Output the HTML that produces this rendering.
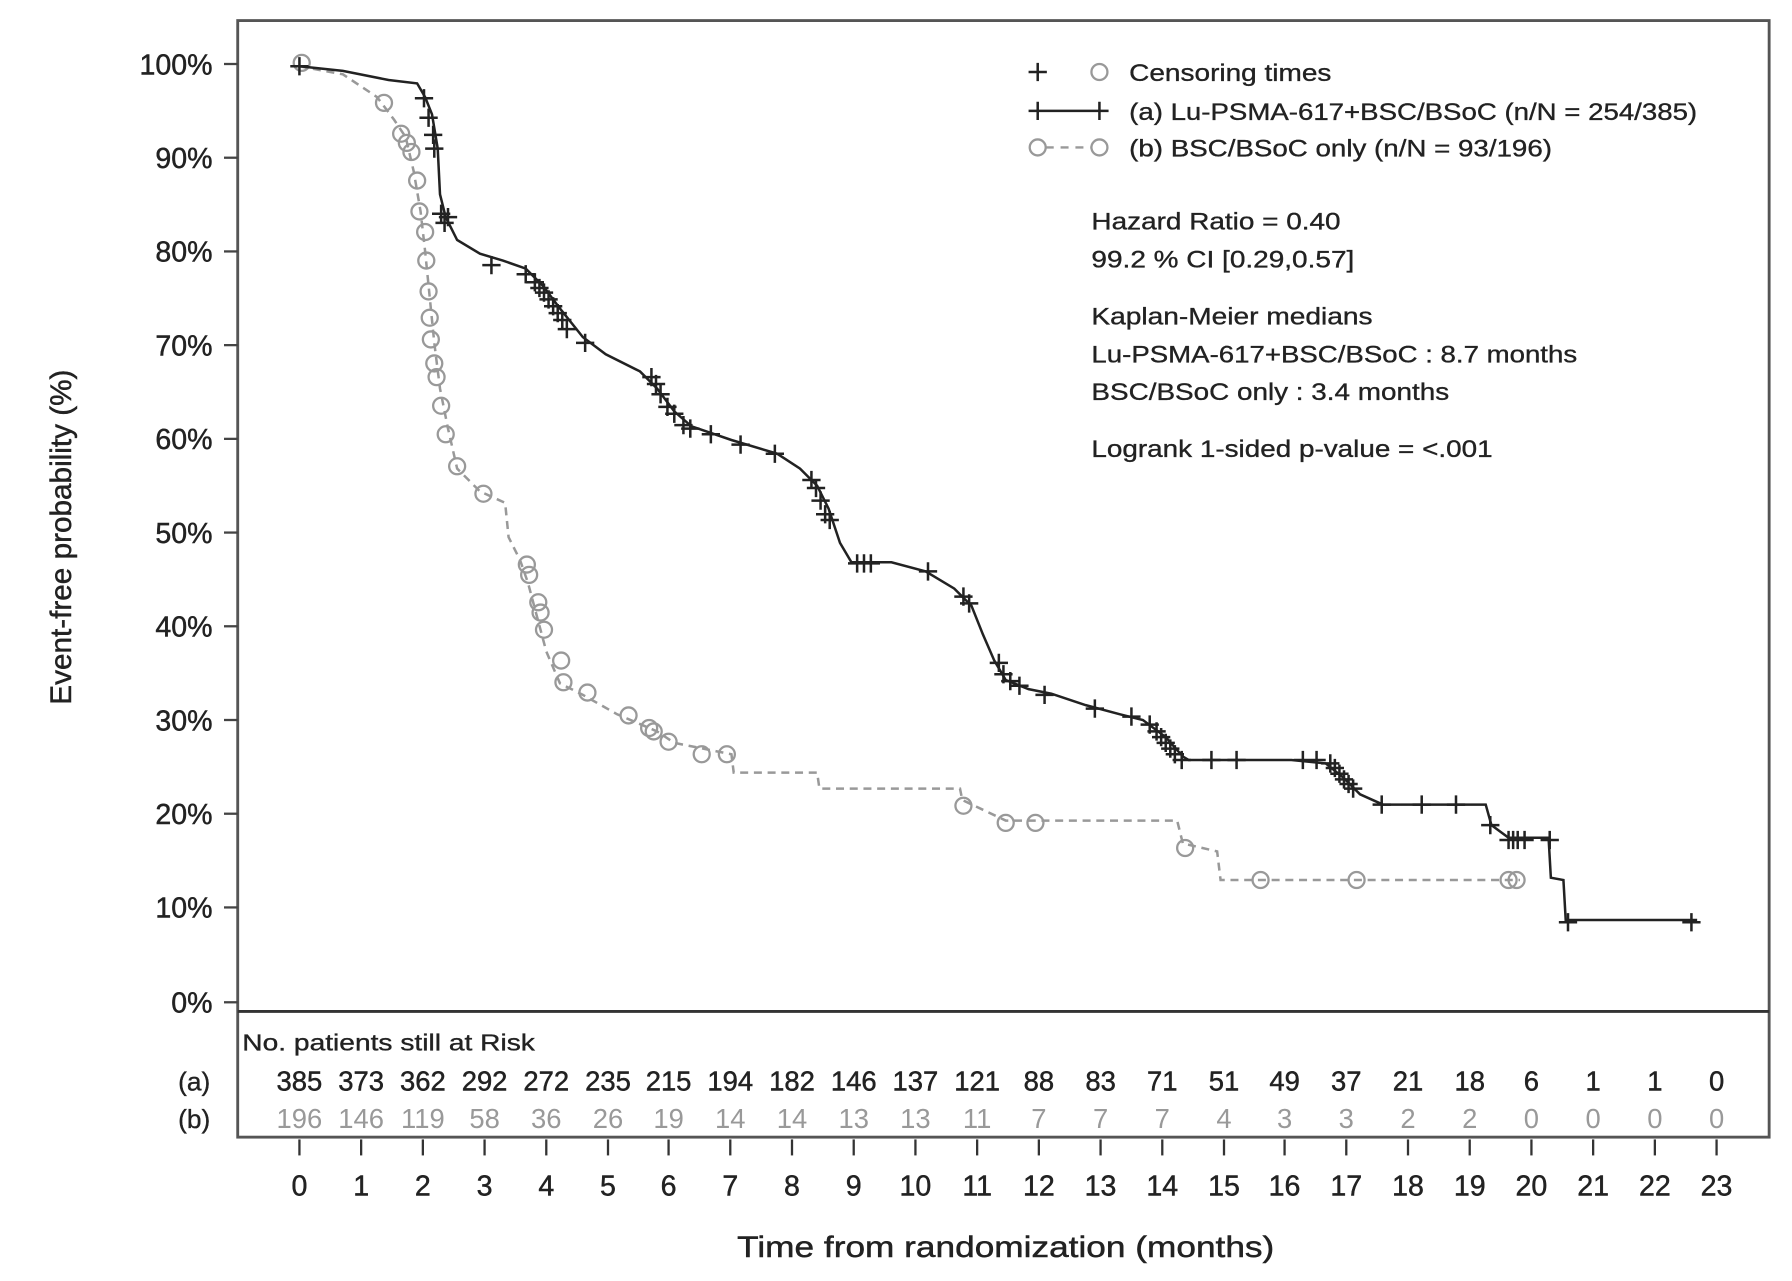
<!DOCTYPE html>
<html><head><meta charset="utf-8"><style>
html,body{margin:0;padding:0;background:#fff;}
svg{display:block;}
text{font-family:"Liberation Sans",Arial,sans-serif;}
</style></head><body>
<svg width="1792" height="1281" viewBox="0 0 1568 1120.875" xmlns="http://www.w3.org/2000/svg">
<rect x="0" y="0" width="1568" height="1121" fill="#fff"/>
<rect x="208" y="18" width="1340" height="977" fill="none" stroke="#555" stroke-width="2.5"/>
<line x1="208" y1="885" x2="1548" y2="885" stroke="#333" stroke-width="2.5"/>
<g stroke="#444" stroke-width="2">
<line x1="196" y1="56" x2="208" y2="56"/><line x1="196" y1="138" x2="208" y2="138"/><line x1="196" y1="220" x2="208" y2="220"/><line x1="196" y1="302" x2="208" y2="302"/><line x1="196" y1="384" x2="208" y2="384"/><line x1="196" y1="466" x2="208" y2="466"/><line x1="196" y1="548" x2="208" y2="548"/><line x1="196" y1="630" x2="208" y2="630"/><line x1="196" y1="712" x2="208" y2="712"/><line x1="196" y1="794" x2="208" y2="794"/><line x1="196" y1="877" x2="208" y2="877"/>
</g>
<g font-size="25" fill="#222" stroke="#222" stroke-width="0.4" text-anchor="end">
<text x="186" y="65">100%</text><text x="186" y="147">90%</text><text x="186" y="229">80%</text><text x="186" y="311">70%</text><text x="186" y="393">60%</text><text x="186" y="475">50%</text><text x="186" y="557">40%</text><text x="186" y="639">30%</text><text x="186" y="721">20%</text><text x="186" y="803">10%</text><text x="186" y="886">0%</text>
</g>
<text transform="translate(62,470) rotate(-90)" font-size="26" fill="#222" stroke="#222" stroke-width="0.4" text-anchor="middle">Event-free probability (%)</text>
<g font-size="25" fill="#222" stroke="#222" stroke-width="0.4" text-anchor="middle">
<text x="262" y="1046">0</text><text x="316" y="1046">1</text><text x="370" y="1046">2</text><text x="424" y="1046">3</text><text x="478" y="1046">4</text><text x="532" y="1046">5</text><text x="585" y="1046">6</text><text x="639" y="1046">7</text><text x="693" y="1046">8</text><text x="747" y="1046">9</text><text x="801" y="1046">10</text><text x="855" y="1046">11</text><text x="909" y="1046">12</text><text x="963" y="1046">13</text><text x="1017" y="1046">14</text><text x="1071" y="1046">15</text><text x="1124" y="1046">16</text><text x="1178" y="1046">17</text><text x="1232" y="1046">18</text><text x="1286" y="1046">19</text><text x="1340" y="1046">20</text><text x="1394" y="1046">21</text><text x="1448" y="1046">22</text><text x="1502" y="1046">23</text>
</g>
<g stroke="#333" stroke-width="2">
<line x1="262" y1="997" x2="262" y2="1011"/><line x1="316" y1="997" x2="316" y2="1011"/><line x1="370" y1="997" x2="370" y2="1011"/><line x1="424" y1="997" x2="424" y2="1011"/><line x1="478" y1="997" x2="478" y2="1011"/><line x1="532" y1="997" x2="532" y2="1011"/><line x1="585" y1="997" x2="585" y2="1011"/><line x1="639" y1="997" x2="639" y2="1011"/><line x1="693" y1="997" x2="693" y2="1011"/><line x1="747" y1="997" x2="747" y2="1011"/><line x1="801" y1="997" x2="801" y2="1011"/><line x1="855" y1="997" x2="855" y2="1011"/><line x1="909" y1="997" x2="909" y2="1011"/><line x1="963" y1="997" x2="963" y2="1011"/><line x1="1017" y1="997" x2="1017" y2="1011"/><line x1="1071" y1="997" x2="1071" y2="1011"/><line x1="1124" y1="997" x2="1124" y2="1011"/><line x1="1178" y1="997" x2="1178" y2="1011"/><line x1="1232" y1="997" x2="1232" y2="1011"/><line x1="1286" y1="997" x2="1286" y2="1011"/><line x1="1340" y1="997" x2="1340" y2="1011"/><line x1="1394" y1="997" x2="1394" y2="1011"/><line x1="1448" y1="997" x2="1448" y2="1011"/><line x1="1502" y1="997" x2="1502" y2="1011"/>
</g>
<text x="880" y="1100" font-size="26" fill="#222" stroke="#222" stroke-width="0.4" text-anchor="middle" textLength="470" lengthAdjust="spacingAndGlyphs">Time from randomization (months)</text>
<text x="212" y="919" font-size="20" fill="#222" stroke="#222" stroke-width="0.3" textLength="256" lengthAdjust="spacingAndGlyphs">No. patients still at Risk</text>
<text x="184" y="954" font-size="23" fill="#222" stroke="#222" stroke-width="0.3" text-anchor="end">(a)</text>
<text x="184" y="987" font-size="23" fill="#222" stroke="#222" stroke-width="0.3" text-anchor="end">(b)</text>
<g font-size="24" fill="#222" stroke="#222" stroke-width="0.4" text-anchor="middle">
<text x="262" y="954">385</text><text x="316" y="954">373</text><text x="370" y="954">362</text><text x="424" y="954">292</text><text x="478" y="954">272</text><text x="532" y="954">235</text><text x="585" y="954">215</text><text x="639" y="954">194</text><text x="693" y="954">182</text><text x="747" y="954">146</text><text x="801" y="954">137</text><text x="855" y="954">121</text><text x="909" y="954">88</text><text x="963" y="954">83</text><text x="1017" y="954">71</text><text x="1071" y="954">51</text><text x="1124" y="954">49</text><text x="1178" y="954">37</text><text x="1232" y="954">21</text><text x="1286" y="954">18</text><text x="1340" y="954">6</text><text x="1394" y="954">1</text><text x="1448" y="954">1</text><text x="1502" y="954">0</text>
</g>
<g font-size="24" fill="#999" text-anchor="middle">
<text x="262" y="987">196</text><text x="316" y="987">146</text><text x="370" y="987">119</text><text x="424" y="987">58</text><text x="478" y="987">36</text><text x="532" y="987">26</text><text x="585" y="987">19</text><text x="639" y="987">14</text><text x="693" y="987">14</text><text x="747" y="987">13</text><text x="801" y="987">13</text><text x="855" y="987">11</text><text x="909" y="987">7</text><text x="963" y="987">7</text><text x="1017" y="987">7</text><text x="1071" y="987">4</text><text x="1124" y="987">3</text><text x="1178" y="987">3</text><text x="1232" y="987">2</text><text x="1286" y="987">2</text><text x="1340" y="987">0</text><text x="1394" y="987">0</text><text x="1448" y="987">0</text><text x="1502" y="987">0</text>
</g>
<polyline fill="none" stroke="#999" stroke-width="2.2" stroke-dasharray="7,5" points="262,58 300,65 330,85 345,105 355,120 362,150 368,185 372,220 376,260 380,300 385,340 392,375 400,410 420,430 442,440 445,470 455,490 462,510 470,540 478,570 490,598 510,608 540,625 575,640 590,650 640,660 642,676 715,676 717,690 840,690 842,700 880,718 1030,718 1035,738 1065,745 1068,770 1330,770"/>
<g fill="none" stroke="#999" stroke-width="2">
<circle cx="264" cy="55" r="7"/><circle cx="336" cy="90" r="7"/><circle cx="351" cy="117" r="7"/><circle cx="356" cy="125" r="7"/><circle cx="360" cy="133" r="7"/><circle cx="365" cy="158" r="7"/><circle cx="367" cy="185" r="7"/><circle cx="372" cy="203" r="7"/><circle cx="373" cy="228" r="7"/><circle cx="375" cy="255" r="7"/><circle cx="376" cy="278" r="7"/><circle cx="377" cy="297" r="7"/><circle cx="380" cy="318" r="7"/><circle cx="382" cy="330" r="7"/><circle cx="386" cy="355" r="7"/><circle cx="390" cy="380" r="7"/><circle cx="400" cy="408" r="7"/><circle cx="423" cy="432" r="7"/><circle cx="461" cy="494" r="7"/><circle cx="463" cy="503" r="7"/><circle cx="471" cy="527" r="7"/><circle cx="473" cy="536" r="7"/><circle cx="476" cy="551" r="7"/><circle cx="491" cy="578" r="7"/><circle cx="493" cy="597" r="7"/><circle cx="514" cy="606" r="7"/><circle cx="550" cy="626" r="7"/><circle cx="568" cy="637" r="7"/><circle cx="572" cy="640" r="7"/><circle cx="585" cy="649" r="7"/><circle cx="614" cy="660" r="7"/><circle cx="636" cy="660" r="7"/><circle cx="843" cy="705" r="7"/><circle cx="880" cy="720" r="7"/><circle cx="906" cy="720" r="7"/><circle cx="1037" cy="742" r="7"/><circle cx="1103" cy="770" r="7"/><circle cx="1187" cy="770" r="7"/><circle cx="1320" cy="770" r="7"/><circle cx="1327" cy="770" r="7"/>
</g>
<polyline fill="none" stroke="#222" stroke-width="2.2" points="262,58 300,62 340,70 365,73 372,85 378,100 383,130 385,170 390,190 400,210 420,222 440,228 460,235 475,250 490,270 510,295 530,310 560,325 575,340 590,360 605,373 640,385 680,397 700,410 715,425 725,445 735,475 745,492 780,492 810,500 835,515 850,530 860,555 870,578 880,595 900,603 920,607 950,617 980,625 1000,630 1020,645 1035,662 1040,665 1130,665 1160,668 1175,680 1190,695 1210,704 1300,704 1305,722 1320,733 1355,733 1357,768 1368,770 1370,805 1485,805"/>
<path fill="none" stroke="#222" stroke-width="2.2" d="
M262,50v16M254,58h16
M371,78v16M363,86h16 M375,95v16M367,103h16 M379,110v16M371,118h16 M380,122v16M372,130h16
M386,179v16M378,187h16 M389,187v16M381,195h16 M392,182v16M384,190h16
M430,224v16M422,232h16 M460,232v16M452,240h16 M468,239v16M460,247h16 M472,244v16M464,252h16 M476,248v16M468,256h16 M480,254v16M472,262h16 M484,260v16M476,268h16 M488,266v16M480,274h16 M492,272v16M484,280h16 M496,280v16M488,288h16 M512,292v16M504,300h16
M570,322v16M562,330h16 M574,328v16M566,336h16 M578,337v16M570,345h16 M584,348v16M576,356h16 M590,354v16M582,362h16 M598,364v16M590,372h16 M604,367v16M596,375h16 M622,372v16M614,380h16 M648,381v16M640,389h16 M678,389v16M670,397h16
M710,412v16M702,420h16 M714,419v16M706,427h16 M718,430v16M710,438h16 M722,442v16M714,450h16 M726,447v16M718,455h16
M750,485v16M742,493h16 M756,485v16M748,493h16 M762,485v16M754,493h16 M812,492v16M804,500h16 M843,514v16M835,522h16 M848,520v16M840,528h16
M874,572v16M866,580h16 M878,582v16M870,590h16 M884,588v16M876,596h16 M892,592v16M884,600h16 M914,600v16M906,608h16 M958,612v16M950,620h16 M990,619v16M982,627h16
M1006,626v16M998,634h16 M1012,632v16M1004,640h16 M1016,637v16M1008,645h16 M1020,642v16M1012,650h16 M1024,647v16M1016,655h16 M1028,652v16M1020,660h16 M1034,657v16M1026,665h16
M1060,657v16M1052,665h16 M1082,657v16M1074,665h16 M1140,657v16M1132,665h16 M1152,657v16M1144,665h16 M1164,660v16M1156,668h16 M1168,664v16M1160,672h16 M1172,669v16M1164,677h16 M1176,674v16M1168,682h16 M1180,678v16M1172,686h16 M1184,682v16M1176,690h16
M1209,696v16M1201,704h16 M1244,696v16M1236,704h16 M1274,696v16M1266,704h16 M1304,714v16M1296,722h16
M1320,727v16M1312,735h16 M1324,727v16M1316,735h16 M1328,727v16M1320,735h16 M1334,727v16M1326,735h16 M1356,727v16M1348,735h16
M1372,799v16M1364,807h16 M1480,799v16M1472,807h16"/>
<path stroke="#222" stroke-width="2.2" fill="none" d="M908,55v16M900,63h16 M900,97h62 M908,89v16M900,97h16 M962,89v16M954,97h16"/>
<circle cx="962" cy="63" r="7" fill="none" stroke="#999" stroke-width="2"/>
<circle cx="908" cy="129" r="7" fill="none" stroke="#999" stroke-width="2"/>
<circle cx="962" cy="129" r="7" fill="none" stroke="#999" stroke-width="2"/>
<line x1="915" y1="129" x2="955" y2="129" stroke="#999" stroke-width="2" stroke-dasharray="7,6"/>
<g font-size="21" fill="#222" stroke="#222" stroke-width="0.3">
<text x="988" y="71" textLength="177" lengthAdjust="spacingAndGlyphs">Censoring times</text>
<text x="988" y="105" textLength="497" lengthAdjust="spacingAndGlyphs">(a) Lu-PSMA-617+BSC/BSoC (n/N = 254/385)</text>
<text x="988" y="137" textLength="370" lengthAdjust="spacingAndGlyphs">(b) BSC/BSoC only (n/N = 93/196)</text>
<text x="955" y="201" textLength="218" lengthAdjust="spacingAndGlyphs">Hazard Ratio = 0.40</text>
<text x="955" y="234" textLength="230" lengthAdjust="spacingAndGlyphs">99.2 % CI [0.29,0.57]</text>
<text x="955" y="284" textLength="246" lengthAdjust="spacingAndGlyphs">Kaplan-Meier medians</text>
<text x="955" y="317" textLength="425" lengthAdjust="spacingAndGlyphs">Lu-PSMA-617+BSC/BSoC : 8.7 months</text>
<text x="955" y="350" textLength="313" lengthAdjust="spacingAndGlyphs">BSC/BSoC only : 3.4 months</text>
<text x="955" y="400" textLength="351" lengthAdjust="spacingAndGlyphs">Logrank 1-sided p-value = &lt;.001</text>
</g>
</svg>
</body></html>
